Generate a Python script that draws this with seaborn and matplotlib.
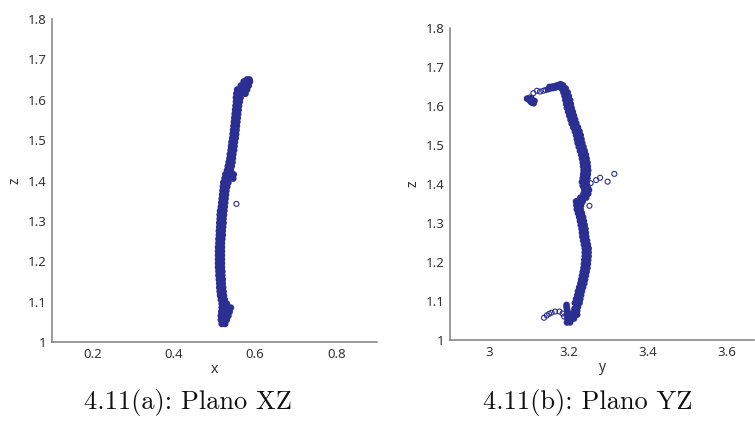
import numpy as np
import pandas as pd
import matplotlib
matplotlib.use("Agg")
import matplotlib.pyplot as plt
import seaborn as sns

# ----------------------------
# data
# ----------------------------
# panel (a): plane XZ, dense trajectory band (left / right edge of x per z row)
xz_z = [1.045, 1.055, 1.065, 1.075, 1.085, 1.095, 1.105, 1.115, 1.125, 1.135,
        1.145, 1.155, 1.165, 1.175, 1.185, 1.195, 1.205, 1.215, 1.225, 1.235,
        1.245, 1.255, 1.265, 1.275, 1.285, 1.295, 1.305, 1.315, 1.325, 1.335,
        1.345, 1.355, 1.365, 1.375, 1.385, 1.395, 1.405, 1.415, 1.425, 1.435,
        1.445, 1.455, 1.465, 1.475, 1.485, 1.495, 1.505, 1.515, 1.525, 1.535,
        1.545, 1.555, 1.565, 1.575, 1.585, 1.595, 1.605, 1.615, 1.625, 1.635,
        1.645, 1.650]
xz_x_left = [0.518, 0.516, 0.516, 0.517, 0.518, 0.518, 0.516, 0.514, 0.513, 0.512,
             0.512, 0.511, 0.510, 0.510, 0.509, 0.509, 0.509, 0.509, 0.509, 0.509,
             0.510, 0.510, 0.511, 0.511, 0.512, 0.512, 0.513, 0.513, 0.514, 0.516,
             0.517, 0.518, 0.519, 0.520, 0.521, 0.522, 0.525, 0.527, 0.531, 0.533,
             0.535, 0.537, 0.538, 0.540, 0.541, 0.542, 0.544, 0.545, 0.546, 0.547,
             0.548, 0.549, 0.550, 0.551, 0.552, 0.553, 0.553, 0.554, 0.556, 0.565,
             0.572, 0.580]
xz_x_right = [0.526, 0.530, 0.534, 0.537, 0.540, 0.530, 0.525, 0.523, 0.522, 0.521,
              0.520, 0.520, 0.519, 0.519, 0.518, 0.518, 0.518, 0.518, 0.518, 0.518,
              0.518, 0.519, 0.520, 0.520, 0.521, 0.522, 0.522, 0.523, 0.524, 0.525,
              0.526, 0.527, 0.528, 0.529, 0.531, 0.534, 0.546, 0.547, 0.540, 0.542,
              0.544, 0.545, 0.546, 0.548, 0.549, 0.550, 0.552, 0.553, 0.554, 0.555,
              0.556, 0.557, 0.558, 0.559, 0.560, 0.562, 0.564, 0.576, 0.580, 0.584,
              0.587, 0.586]
# dense extras of panel (a): bottom blob, bulge near 1.41, top hook
xz_extra_x = [0.522, 0.524, 0.526, 0.528, 0.528, 0.524,
              0.533, 0.536, 0.538,
              0.562, 0.566, 0.570, 0.574, 0.578]
xz_extra_z = [1.050, 1.060, 1.068, 1.076, 1.085, 1.094,
              1.402, 1.410, 1.418,
              1.614, 1.620, 1.626, 1.632, 1.640]
# isolated samples in panel (a)
xz_sparse_x = [0.554]
xz_sparse_z = [1.342]

# panel (b): plane YZ, dense band (left / right edge of y per z row)
yz_z = [1.045, 1.055, 1.065, 1.075, 1.085, 1.095, 1.105, 1.115, 1.125, 1.135,
        1.145, 1.155, 1.165, 1.175, 1.185, 1.195, 1.205, 1.215, 1.225, 1.235,
        1.245, 1.255, 1.265, 1.275, 1.285, 1.295, 1.305, 1.315, 1.325, 1.335,
        1.345, 1.355, 1.365, 1.375, 1.385, 1.395, 1.405, 1.415, 1.425, 1.435,
        1.445, 1.455, 1.465, 1.475, 1.485, 1.495, 1.505, 1.515, 1.525, 1.535,
        1.545, 1.555, 1.565, 1.575, 1.585, 1.595, 1.605, 1.615, 1.625, 1.635,
        1.645]
yz_y_left = [3.196, 3.197, 3.196, 3.197, 3.195, 3.216, 3.219, 3.222, 3.224, 3.227,
             3.230, 3.232, 3.234, 3.236, 3.238, 3.239, 3.240, 3.241, 3.241, 3.241,
             3.239, 3.237, 3.235, 3.234, 3.233, 3.231, 3.229, 3.227, 3.224, 3.221,
             3.220, 3.219, 3.230, 3.238, 3.240, 3.236, 3.234, 3.236, 3.237, 3.238,
             3.237, 3.236, 3.234, 3.232, 3.229, 3.226, 3.223, 3.221, 3.219, 3.216,
             3.212, 3.208, 3.205, 3.202, 3.199, 3.196, 3.194, 3.192, 3.190, 3.187,
             3.182]
yz_y_right = [3.204, 3.214, 3.222, 3.222, 3.224, 3.228, 3.230, 3.232, 3.234, 3.237,
              3.240, 3.242, 3.244, 3.246, 3.248, 3.249, 3.250, 3.251, 3.251, 3.251,
              3.249, 3.247, 3.245, 3.244, 3.243, 3.241, 3.239, 3.237, 3.234, 3.231,
              3.232, 3.236, 3.245, 3.250, 3.252, 3.248, 3.246, 3.248, 3.249, 3.250,
              3.249, 3.248, 3.246, 3.244, 3.241, 3.238, 3.235, 3.233, 3.231, 3.228,
              3.224, 3.220, 3.217, 3.214, 3.211, 3.208, 3.206, 3.204, 3.201, 3.198,
              3.193]
# dense extras of panel (b): top stretch, left hook, bottom spike and blob
yz_extra_y = [3.148, 3.154, 3.160, 3.166, 3.172, 3.178, 3.183, 3.152, 3.160,
              3.168, 3.175, 3.180, 3.186, 3.095, 3.100, 3.104, 3.108, 3.112,
              3.106, 3.114, 3.195, 3.196, 3.197,
              3.205, 3.210, 3.212, 3.215, 3.228, 3.232]
yz_extra_z = [1.643, 1.645, 1.646, 1.647, 1.649, 1.651, 1.652, 1.649, 1.650,
              1.652, 1.654, 1.656, 1.653, 1.619, 1.616, 1.611, 1.608, 1.607,
              1.620, 1.613, 1.090, 1.080, 1.070,
              1.050, 1.060, 1.070, 1.080, 1.350, 1.360]
# isolated samples in panel (b)
yz_sparse_y = [3.102, 3.111, 3.120, 3.128, 3.136, 3.142,
               3.138, 3.145, 3.151, 3.157, 3.166, 3.177, 3.185, 3.189,
               3.256, 3.270, 3.280, 3.299, 3.316, 3.253, 3.220]
yz_sparse_z = [1.622, 1.633, 1.639, 1.637, 1.639, 1.641,
               1.057, 1.063, 1.067, 1.070, 1.073, 1.073, 1.068, 1.060,
               1.402, 1.410, 1.416, 1.406, 1.426, 1.344, 1.356]

captions = ["4.11(a): Plano XZ", "4.11(b): Plano YZ"]

BLUE = "#2b2f91"
GREY = "#7f7f7f"

sns.set_style("white")
plt.rcParams["font.family"] = ["Noto Sans", "DejaVu Sans"]

fig = plt.figure(figsize=(7.55, 4.30), dpi=100)
ax1 = fig.add_axes([52 / 755, 1 - 342 / 430, 325 / 755, 323 / 430])
ax2 = fig.add_axes([450 / 755, 1 - 340 / 430, 304 / 755, 312 / 430])

dense_a = pd.DataFrame({"x": xz_x_left + xz_x_right + xz_extra_x,
                        "z": xz_z + xz_z + xz_extra_z})
dense_b = pd.DataFrame({"y": yz_y_left + yz_y_right + yz_extra_y,
                        "z": yz_z + yz_z + yz_extra_z})

# dense samples: heavy open circles so the trajectory reads as a solid band
sns.scatterplot(data=dense_a, x="x", y="z", ax=ax1, marker="o", s=5,
                color=BLUE, facecolors="none", edgecolor=BLUE, linewidth=2.7)
sns.scatterplot(x=xz_sparse_x, y=xz_sparse_z, ax=ax1, marker="o", s=13,
                color=BLUE, facecolors="none", edgecolor=BLUE, linewidth=0.8)

sns.scatterplot(data=dense_b, x="y", y="z", ax=ax2, marker="o", s=5,
                color=BLUE, facecolors="none", edgecolor=BLUE, linewidth=2.5)
sns.scatterplot(x=yz_sparse_y, y=yz_sparse_z, ax=ax2, marker="o", s=13,
                color=BLUE, facecolors="none", edgecolor=BLUE, linewidth=0.8)

ax1.set_xlim(0.1, 0.9)
ax1.set_xticks([0.2, 0.4, 0.6, 0.8])
ax1.set_xticklabels(["0.2", "0.4", "0.6", "0.8"])
ax2.set_xlim(2.9, 2.9 + 304 / 395)
ax2.set_xticks([3.0, 3.2, 3.4, 3.6])
ax2.set_xticklabels(["3", "3.2", "3.4", "3.6"])

yt = [1.0, 1.1, 1.2, 1.3, 1.4, 1.5, 1.6, 1.7, 1.8]
ylab = ["1", "1.1", "1.2", "1.3", "1.4", "1.5", "1.6", "1.7", "1.8"]
for ax, xl in [(ax1, "x"), (ax2, "y")]:
    ax.set_ylim(1.0, 1.8)
    ax.set_yticks(yt)
    ax.set_yticklabels(ylab)
    ax.set_xlabel(xl, fontsize=10, color="#333333", labelpad=1)
    ax.set_ylabel("z", fontsize=10, color="#333333", labelpad=4)
    for side in ["top", "right"]:
        ax.spines[side].set_visible(False)
    for side in ["left", "bottom"]:
        ax.spines[side].set_color(GREY)
        ax.spines[side].set_linewidth(1.1)
    ax.tick_params(direction="in", length=3, width=0.8, color="#333333",
                   labelsize=9.5, labelcolor="#333333", pad=4)

fig.text(188 / 755, 1 - 403 / 430, captions[0], ha="center", va="center",
         fontsize=19, family="cmr10", color="#111111")
fig.text(588 / 755, 1 - 403 / 430, captions[1], ha="center", va="center",
         fontsize=19, family="cmr10", color="#111111")

fig.savefig("out.png", dpi=100)
